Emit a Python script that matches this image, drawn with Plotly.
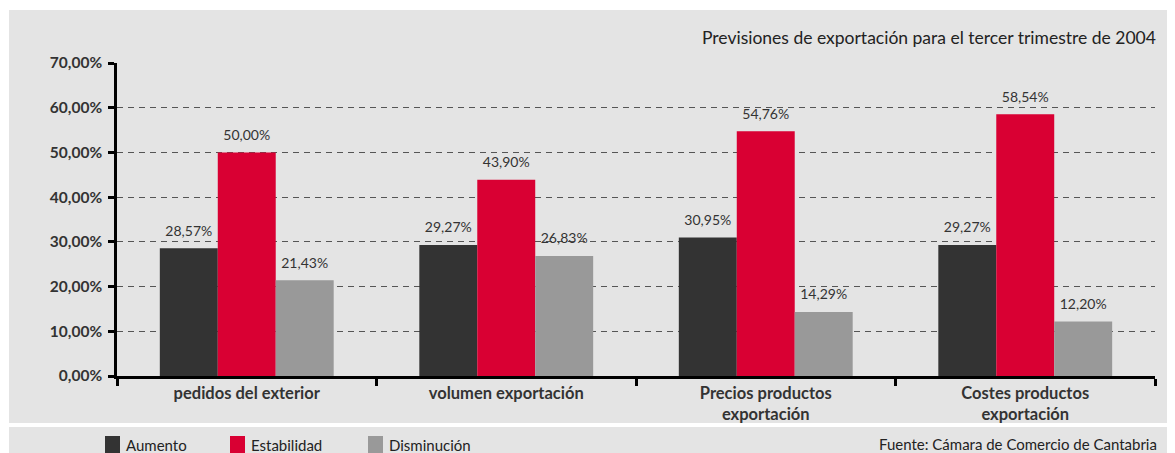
import plotly.graph_objects as go

categorias = ['pedidos del exterior', 'volumen exportación',
              'Precios productos<br>exportación', 'Costes productos<br>exportación']
aumento = [28.57, 29.27, 30.95, 29.27]
estabilidad = [50.00, 43.90, 54.76, 58.54]
disminucion = [21.43, 26.83, 14.29, 12.20]
series = [('Aumento', aumento, '#333333'),
          ('Estabilidad', estabilidad, '#d90033'),
          ('Disminución', disminucion, '#999999')]

# the page body adds an 8px margin, so the figure sits at (8, 8)
OFF = 8
W, H = 1175 - OFF, 453 - OFF
L, R, T, B = 117 - OFF, 20, 63 - OFF, 77   # plot area (page px) 117..1155 x 63..376
pw, ph = W - L - R, H - T - B

def px(x):  # page pixel -> paper
    return (x - OFF - L) / pw

def py(y):
    return (H - B - (y - OFF)) / ph

FONT = 'Lato, "Open Sans", sans-serif'

fig = go.Figure()
for name, vals, col in series:
    fig.add_trace(go.Bar(x=categorias, y=vals, name=name, marker_color=col, marker_line_width=0))
# value labels, grouped like the bars; an invisible marker lifts the text above the bar
for name, vals, col in series:
    fig.add_trace(go.Scatter(
        x=categorias, y=vals, name=name, mode='markers+text', texttemplate='%{y:.2f}%',
        textposition='top center', cliponaxis=False, hoverinfo='skip',
        marker=dict(size=13, opacity=0),
        textfont=dict(size=14, color='#333333', family=FONT)))

shapes = [
    # main gray panel
    dict(type='rect', xref='paper', yref='paper', x0=px(9), x1=px(1190), y0=py(423), y1=py(10),
         fillcolor='#e4e4e4', line_width=0, layer='below'),
    # legend panel
    dict(type='rect', xref='paper', yref='paper', x0=px(9), x1=px(1190), y0=py(470), y1=py(427),
         fillcolor='#e4e4e4', line_width=0, layer='below'),
]
annotations = [
    dict(text='Previsiones de exportación para el tercer trimestre de 2004', xref='paper', yref='paper',
         x=px(1158), y=py(38), xanchor='right', yanchor='middle', showarrow=False,
         font=dict(size=17.5, color='#222222', family=FONT)),
    dict(text='Fuente: Cámara de Comercio de Cantabria', xref='paper', yref='paper',
         x=px(1159), y=py(444), xanchor='right', yanchor='middle', showarrow=False,
         font=dict(size=15, color='#222222', family=FONT)),
]
# manual legend
leg_x = [105, 230, 368]
for (name, vals, col), lx in zip(series, leg_x):
    shapes.append(dict(type='rect', xref='paper', yref='paper', x0=px(lx), x1=px(lx + 15),
                       y0=py(460), y1=py(436), fillcolor=col, line_width=0))
    annotations.append(dict(text=name, xref='paper', yref='paper', x=px(lx + 19), y=py(445),
                            xanchor='left', yanchor='middle', showarrow=False,
                            font=dict(size=15, color='#222222', family=FONT)))

fig.update_layout(
    width=W, height=H, margin=dict(l=L, r=R, t=T, b=B),
    paper_bgcolor='white', plot_bgcolor='rgba(0,0,0,0)',
    barmode='group', bargap=0.33, bargroupgap=0,
    scattermode='group', scattergap=0.33,
    separators=',.', showlegend=False,
    font=dict(family=FONT, color='#222222'),
    shapes=shapes, annotations=annotations,
    xaxis=dict(showline=True, linecolor='black', linewidth=2.5, ticks='outside',
               tickson='boundaries', ticklen=7, tickwidth=2.5, tickcolor='black',
               tickfont=dict(size=16.5, family=FONT, weight='bold', color='#333333'),
               showgrid=False),
    yaxis=dict(range=[0, 70], dtick=10, tickformat='.2f', ticksuffix='%',
               showline=True, linecolor='black', linewidth=2.5, ticks='outside',
               ticklen=6, tickwidth=2.5, tickcolor='black', ticklabelstandoff=3,
               showgrid=True, gridcolor='#555555', gridwidth=1, griddash='6px,5px',
               zeroline=False,
               tickfont=dict(size=15.5, family=FONT, weight='bold', color='#333333')),
)

fig.write_html('out.html')
